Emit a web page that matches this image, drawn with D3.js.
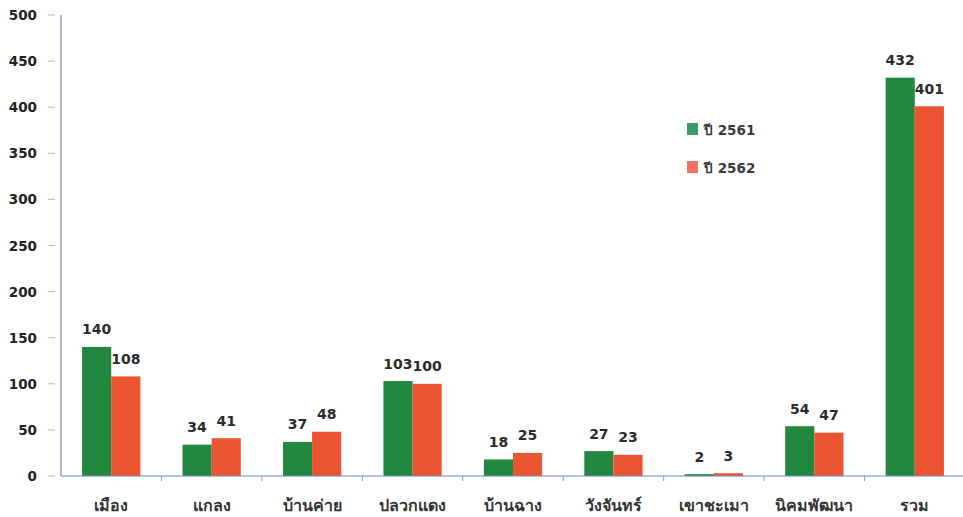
<!DOCTYPE html>
<html><head><meta charset="utf-8">
<script src="https://cdn.jsdelivr.net/npm/d3@7/dist/d3.min.js"></script>
<style>body{margin:0;background:#fff}svg{display:block}</style>
</head><body>
<svg id="c" width="963" height="517"></svg>
<script>
const categories = ["เมือง","แกลง","บ้านค่าย","ปลวกแดง","บ้านฉาง","วังจันทร์","เขาชะเมา","นิคมพัฒนา","รวม"];
const seriesNames = ["ปี 2561","ปี 2562"];
const values2561 = [140,34,37,103,18,27,2,54,432];
const values2562 = [108,41,48,100,25,23,3,47,401];
const yTicks = [0,50,100,150,200,250,300,350,400,450,500];
const colors = ["#22873f","#ea5430"];
const legendColors = ["#3a9a68","#f07262"];

(function(){
const svg = d3.select("#c");
const font = "'DejaVu Sans', Tahoma, sans-serif";
const mLeft = 61, mRight = 965, mTop = 15, mBottom = 476;

const x0 = d3.scaleBand().domain(categories).range([mLeft, mRight]).padding(0);
const x1 = d3.scaleBand().domain(seriesNames).range([x0.bandwidth()*0.21, x0.bandwidth()*0.79]).padding(0);
const y = d3.scaleLinear().domain([0,500]).range([mBottom, mTop]);

const series = [values2561, values2562];

const yg = svg.append("g");
yg.selectAll("line").data(yTicks).join("line")
  .attr("x1", 48).attr("x2", 55)
  .attr("y1", d => y(d)).attr("y2", d => y(d))
  .attr("stroke", "#bbb").attr("stroke-width", 1);
yg.selectAll("text").data(yTicks).join("text")
  .attr("x", 37).attr("y", d => y(d) + 5)
  .attr("text-anchor", "end")
  .attr("font-family", font).attr("font-weight", "bold").attr("font-size", 13.5)
  .attr("fill", "#222").text(d => d);

const groups = svg.append("g").selectAll("g").data(categories).join("g")
  .attr("transform", d => `translate(${x0(d)},0)`);
groups.selectAll("rect").data((d,i) => seriesNames.map((s,j) => ({s, v: series[j][i], j})))
  .join("rect")
  .attr("x", d => x1(d.s)).attr("width", x1.bandwidth())
  .attr("y", d => y(d.v)).attr("height", d => y(0) - y(d.v))
  .attr("fill", d => colors[d.j]);
groups.selectAll("text").data((d,i) => seriesNames.map((s,j) => ({s, v: series[j][i], j})))
  .join("text")
  .attr("x", d => x1(d.s) + x1.bandwidth()/2)
  .attr("y", d => y(d.v) - 12.5)
  .attr("text-anchor", "middle")
  .attr("font-family", font).attr("font-weight", "bold").attr("font-size", 14)
  .attr("fill", "#2a2a2a").text(d => d.v);

svg.append("line").attr("x1", mLeft).attr("x2", mLeft).attr("y1", mTop).attr("y2", mBottom)
  .attr("stroke", "#7583c4").attr("stroke-width", 1.2);
svg.append("line").attr("x1", mLeft).attr("x2", mRight).attr("y1", mBottom).attr("y2", mBottom)
  .attr("stroke", "#7583c4").attr("stroke-width", 1.2);
svg.append("g").selectAll("line").data(categories.slice(1)).join("line")
  .attr("x1", d => x0(d)).attr("x2", d => x0(d))
  .attr("y1", mBottom).attr("y2", mBottom + 5)
  .attr("stroke", "#999");

svg.append("g").selectAll("text").data(categories).join("text")
  .attr("x", d => x0(d) + x0.bandwidth()/2).attr("y", 511)
  .attr("text-anchor", "middle")
  .attr("font-family", font).attr("font-weight", "bold").attr("font-size", 16)
  .attr("fill", "#333").text(d => d);

const lg = svg.append("g").selectAll("g").data(seriesNames).join("g")
  .attr("transform", (d,i) => `translate(687,${123 + i*38})`);
lg.append("rect").attr("width", 11).attr("height", 12).attr("fill", (d,i) => legendColors[i]);
lg.append("text").attr("x", 17).attr("y", 12)
  .attr("font-family", font).attr("font-weight", "bold").attr("font-size", 13.5)
  .attr("fill", "#3a3a3a").text(d => d);
})();
</script>
</body></html>
